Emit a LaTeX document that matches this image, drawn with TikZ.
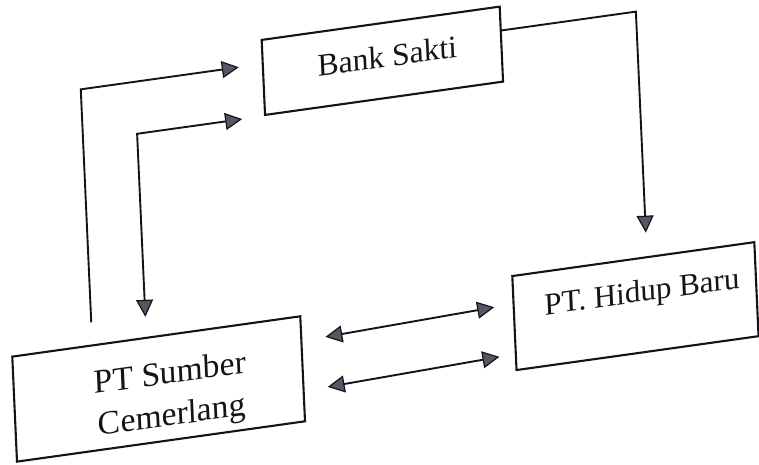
\documentclass[tikz,border=0pt]{standalone}
\usepackage{fontspec}
\setmainfont{Liberation Serif}
\usetikzlibrary{arrows.meta}
\definecolor{headfill}{RGB}{85,86,102}
\definecolor{ink}{RGB}{20,20,24}
\begin{document}
\begin{tikzpicture}[x=1pt,y=1pt,
  box/.style={draw=ink, line width=2.1pt, inner sep=0pt},
  lbl/.style={inner sep=0pt, text=ink, font=\fontsize{32}{38}\selectfont},
  hd/.tip={Triangle[length=17pt,width=17pt,fill=headfill,line width=1.2pt]},
  conn/.style={draw=ink, line width=1.9pt, -hd},
  dconn/.style={draw=ink, line width=1.9pt, hd-hd},
]
\useasboundingbox (0,0) rectangle (759,464);
\begin{scope}[cm={1,0.14,-0.045,1,(0,0)}, transform shape]
  \node[box, minimum width=238pt, minimum height=75pt,
        label={[lbl, font=\fontsize{31.5}{37}\selectfont, xshift=5pt, yshift=4pt]center:Bank Sakti}] (bank) at (398,347.5) {};
  \node[box, minimum width=242pt, minimum height=94pt,
        label={[lbl, font=\fontsize{31}{37}\selectfont, xshift=7pt, yshift=11pt]center:PT. Hidup Baru}] (hidup) at (638.5,68.5) {};
  \node[box, minimum width=288pt, minimum height=105pt,
        label={[lbl, font=\fontsize{33.5}{42}\selectfont, align=center, xshift=12pt, yshift=-9pt]center:PT Sumber\\Cemerlang}] (sumber) at (161,52.5) {};

  % arrow 1: from above Sumber up and right to Bank
  \coordinate (a1s) at (97,128);
  \coordinate (a1c) at (97,361);
  \coordinate (a1e) at (255,361);
  \draw[conn] (a1s) -- (a1c) -- (a1e);

  % arrow 2: double headed between Bank and Sumber
  \coordinate (a2s) at (256,309);
  \coordinate (a2c) at (151,309);
  \coordinate (a2e) at (151,126);
  \draw[dconn] (a2s) -- (a2c) -- (a2e);

  % arrow 3: from Bank to Hidup
  \coordinate (a3c) at (652,361);
  \coordinate (a3e) at (652,140);
  \draw[conn] ([yshift=13.5pt]bank.east) -- (a3c) -- (a3e);

  % double arrows between Sumber and Hidup
  \coordinate (d1l) at (329,81);
  \coordinate (d1r) at (498,87);
  \coordinate (d2l) at (329,31);
  \coordinate (d2r) at (501,37);
  \draw[dconn] (d1l) -- (d1r);
  \draw[dconn] (d2l) -- (d2r);
\end{scope}
\end{tikzpicture}
\end{document}
